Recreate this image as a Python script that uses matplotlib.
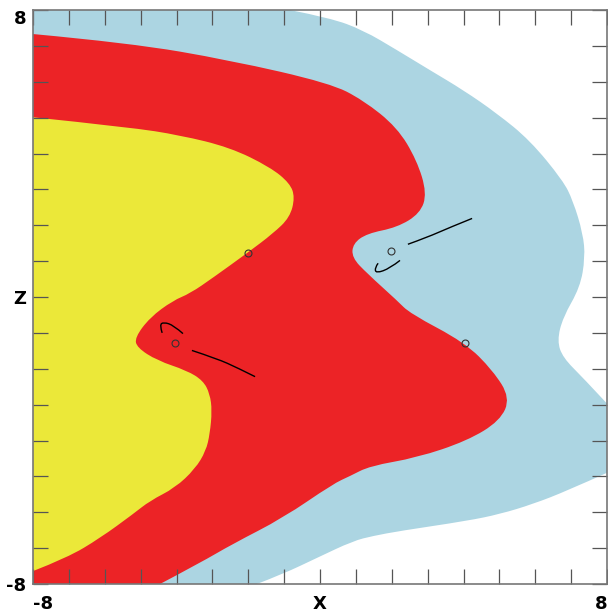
import matplotlib.pyplot as plt
from matplotlib.path import Path
from matplotlib.patches import PathPatch
import numpy as np

# outer edge of the light blue region (x, z)
blue_x = [-0.84, 0.28, 1.20, 2.15, 3.07, 3.99, 4.93, 5.85, 6.77, 7.05, 7.33, 7.39,
          7.25, 6.77, 6.61, 6.77, 7.33, 8.0]
blue_z = [8, 7.78, 7.44, 6.88, 6.32, 5.77, 5.12, 4.37, 3.25, 2.69, 1.77, 1.10,
          0.27, -0.57, -1.22, -1.69, -2.25, -2.97]
blue_bx = [8.0, 6.89, 5.94, 5.02, 4.10, 2.23, 1.48, 0.92, -0.08, -1.03, -1.76]
blue_bz = [-4.90, -5.40, -5.77, -6.05, -6.24, -6.52, -6.66, -6.80, -7.27, -7.72, -8]

# red / blue boundary
red_x = [-8, -5.30, -2.51, 0.28, 1.20, 2.15, 2.70, 2.98, 2.79, 2.15, 1.31, 0.92, 0.89,
         1.31, 2.15, 2.51, 4.04, 4.82, 5.30, 5.02, 4.10, 2.70, 1.39, 0.84, 0.36, -1.03,
         -2.43, -3.34, -4.46]
red_z = [7.33, 7.08, 6.60, 5.96, 5.49, 4.73, 3.81, 2.89, 2.33, 1.94, 1.77, 1.49, 1.10,
         0.66, -0.10, -0.46, -1.27, -2.05, -2.81, -3.45, -4.01, -4.48, -4.71, -4.99,
         -5.21, -6.16, -6.88, -7.41, -8]

# yellow / red boundary
yel_x = [-8, -5.30, -3.90, -2.51, -1.39, -0.84, -0.70, -0.84, -1.31, -2.01, -2.98, -3.62,
         -4.10, -4.74, -5.16, -5.10, -4.54, -3.71, -3.26, -3.07, -3.01, -3.07, -3.18,
         -3.48, -4.04, -4.74, -5.21, -6.13, -7.05, -8]
yel_z = [5.01, 4.73, 4.51, 4.17, 3.62, 3.17, 2.78, 2.22, 1.77, 1.24, 0.54, 0.10, -0.10,
         -0.57, -1.13, -1.41, -1.77, -2.05, -2.33, -2.70, -3.17, -3.81, -4.29, -4.79,
         -5.32, -5.68, -6.05, -6.72, -7.27, -7.64]

# small circles
pts_x = [-2.01, -4.04, 1.98, 4.04]
pts_z = [1.24, -1.27, 1.27, -1.27]

# black curves
arcA_x = [-4.40, -4.47, -4.36, -4.08, -3.82]
arcA_z = [-1.00, -0.78, -0.70, -0.79, -1.02]
lineA_x = [-3.57, -2.87, -2.31, -1.81]
lineA_z = [-1.49, -1.72, -1.97, -2.22]
arcB_x = [2.23, 1.95, 1.56, 1.53, 1.62]
arcB_z = [1.02, 0.80, 0.66, 0.82, 0.94]
lineB_x = [2.45, 2.98, 3.62, 4.24]
lineB_z = [1.47, 1.66, 1.94, 2.19]


def smooth_edge(xs, zs, verts, codes, start):
    """append a rounded outline through the given points (quadratic beziers)"""
    p = list(zip(xs, zs))
    verts.append(p[0])
    codes.append(Path.MOVETO if start else Path.LINETO)
    for i in range(1, len(p) - 1):
        if i == len(p) - 2:
            end = p[-1]
        else:
            end = ((p[i][0] + p[i + 1][0]) / 2, (p[i][1] + p[i + 1][1]) / 2)
        verts += [p[i], end]
        codes += [Path.CURVE3, Path.CURVE3]


def region(pieces, corners, color):
    verts, codes = [], []
    for k, (xs, zs) in enumerate(pieces):
        smooth_edge(xs, zs, verts, codes, k == 0)
    for c in corners:
        verts.append(c)
        codes.append(Path.LINETO)
    verts.append(verts[0])
    codes.append(Path.CLOSEPOLY)
    return PathPatch(Path(verts, codes), facecolor=color, lw=0)


def curve(xs, zs):
    verts, codes = [], []
    smooth_edge(xs, zs, verts, codes, True)
    return PathPatch(Path(verts, codes), fill=False, edgecolor='black', lw=1.0)


fig = plt.figure(figsize=(6.08, 6.12), dpi=100)
ax = fig.add_axes([33 / 608, 28 / 612, 574 / 608, 574 / 612])

ax.add_patch(region([(blue_x, blue_z), (blue_bx, blue_bz)], [(-8, -8), (-8, 8)], '#acd5e2'))
ax.add_patch(region([(red_x, red_z)], [(-8, -8)], '#ec2326'))
ax.add_patch(region([(yel_x, yel_z)], [], '#ebe839'))

for cx, cz in [(arcA_x, arcA_z), (lineA_x, lineA_z), (arcB_x, arcB_z), (lineB_x, lineB_z)]:
    ax.add_patch(curve(cx, cz))
ax.plot(pts_x, pts_z, 'o', ms=5, mfc='none', mec='#333333', mew=0.8)

ax.set_xlim(-8, 8)
ax.set_ylim(-8, 8)
ax.set_xticks(np.arange(-8, 9))
ax.set_yticks(np.arange(-8, 9))
xl = [''] * 17
xl[0], xl[8], xl[16] = '-8', 'X', '8'
ax.set_xticklabels(xl)
ax.set_yticklabels(xl[:8] + ['Z'] + xl[9:])
ax.tick_params(direction='in', length=10.5, width=0.9, color='#555555',
               top=True, right=True, labelsize=13)
ax.tick_params(axis='x', pad=8)
ax.tick_params(axis='y', pad=5)
for lab in ax.get_xticklabels() + ax.get_yticklabels():
    lab.set_fontweight('bold')
ax.get_xticklabels()[0].set_ha('left')
ax.get_xticklabels()[16].set_ha('right')
ax.get_yticklabels()[16].set_va('top')
for s in ax.spines.values():
    s.set_color('#777777')
    s.set_linewidth(1.2)

fig.savefig('out.png', dpi=100)
